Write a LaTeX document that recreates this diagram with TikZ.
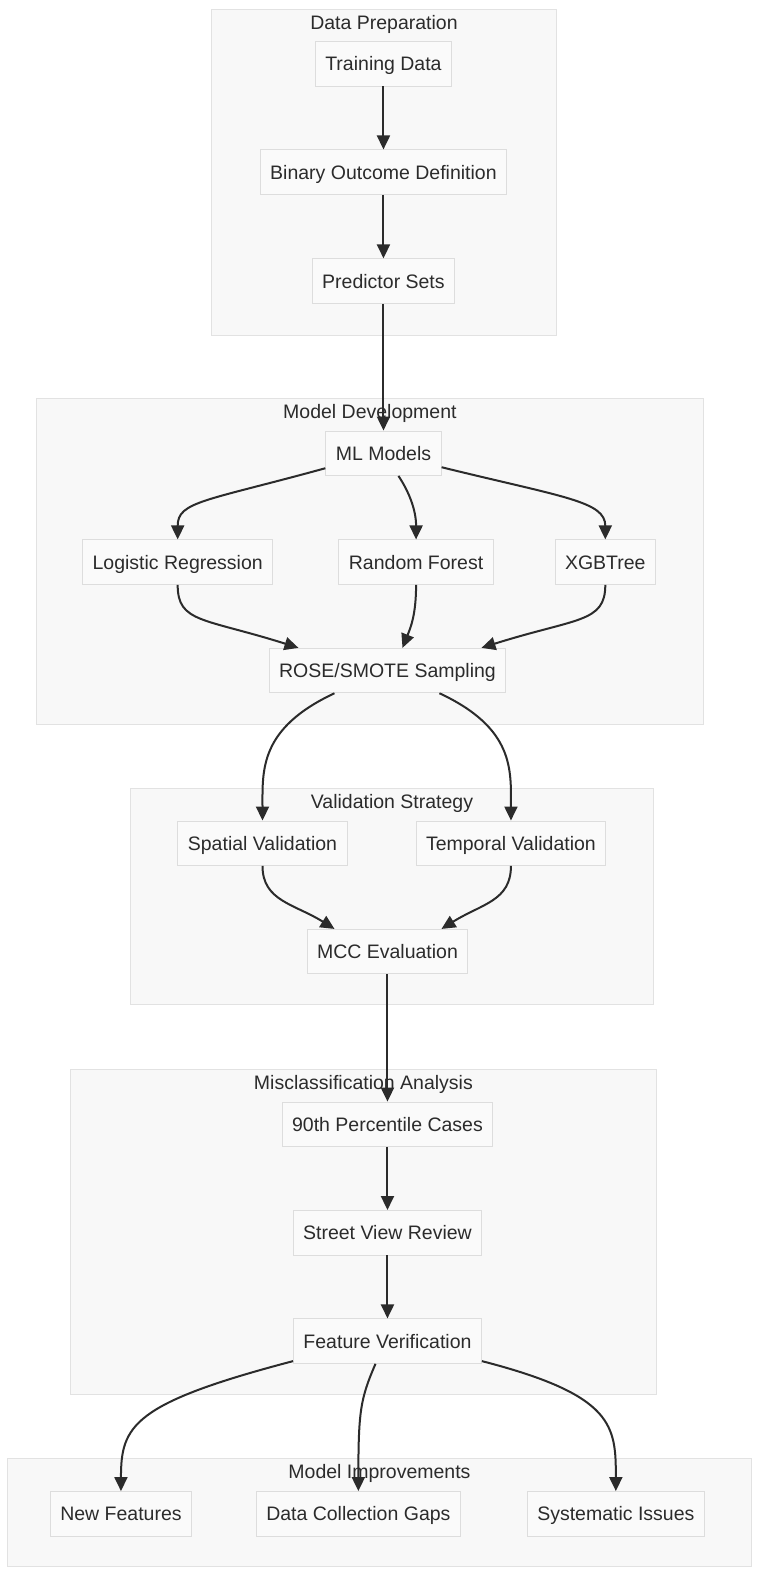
\documentclass[tikz,border=0pt]{standalone}
\usepackage{fontspec}
\setmainfont{Liberation Sans}
\usetikzlibrary{arrows.meta}
\definecolor{ink}{HTML}{2B2B2B}
\definecolor{boxfill}{HTML}{FAFAFA}
\definecolor{boxline}{HTML}{DDDDDD}
\definecolor{clusterfill}{HTML}{F8F8F8}
\definecolor{clusterline}{HTML}{E2E2E2}
\begin{document}
\begin{tikzpicture}[x=1.004pt,y=-1.004pt,
	box/.style={draw=boxline,fill=boxfill,line width=0.9pt,minimum height=44.5pt,inner xsep=10pt,text height=16pt,text depth=2pt,text=ink,font=\fontsize{19.5}{23}\selectfont},
	cluster/.style={draw=clusterline,fill=clusterfill,line width=1pt},
	title/.style={text=ink,inner sep=0pt,text height=16pt,text depth=2pt,font=\fontsize{19.5}{23}\selectfont},
	arr/.style={draw=ink,line width=2pt,-{Triangle[length=14pt,width=13pt]}}]
	\fill[white] (0,0) rectangle (757,1568);
	\useasboundingbox (0,0) rectangle (757,1568);
	
	% subgraphs
	\draw[cluster] (211,9) rectangle (554,334);
	\draw[cluster] (36,397) rectangle (701,722);
	\draw[cluster] (130,785) rectangle (651,1001);
	\draw[cluster] (70,1065) rectangle (654,1389);
	\draw[cluster] (7,1453) rectangle (749,1561);
	\node[title] (tprep) at (382.5,22) {Data Preparation};
	\node[title] (tdev) at (368.5,410) {Model Development};
	\node[title] (tval) at (390.5,798) {Validation Strategy};
	\node[title] (tmis) at (362,1078) {Misclassification Analysis};
	\node[title] (timp) at (378,1466) {Model Improvements};
	
	% nodes
	\node[box] (train) at (382,63.5) {Training Data};
	\node[box] (binary) at (382,171.5) {Binary Outcome Definition};
	\node[box] (pred) at (382,280) {Predictor Sets};
	
	\node[box] (ml) at (382,451.5) {ML Models};
	\node[box] (logreg) at (177,560) {Logistic Regression};
	\node[box] (rf) at (414.5,560) {Random Forest};
	\node[box] (xgb) at (603,560) {XGBTree};
	\node[box] (rose) at (386,668) {ROSE/SMOTE Sampling};
	
	\node[box] (spat) at (261.5,840) {Spatial Validation};
	\node[box] (temp) at (509,840) {Temporal Validation};
	\node[box] (mcc) at (386,948) {MCC Evaluation};
	
	\node[box] (pct) at (386,1120) {90th Percentile Cases};
	\node[box] (street) at (386,1228) {Street View Review};
	\node[box] (feat) at (386,1336) {Feature Verification};
	
	\node[box] (newf) at (120.5,1508) {New Features};
	\node[box] (gaps) at (357,1508) {Data Collection Gaps};
	\node[box] (sys) at (613.5,1508) {Systematic Issues};
	
	% edges
	\draw[arr] (train) -- (binary);
	\draw[arr] (binary) -- (pred);
	\draw[arr] (pred) -- (ml);
	
	\draw[arr] ([yshift=-15pt]ml.west) .. controls +(-120,33) and +(0,-38) .. (logreg.north);
	\draw[arr] ([xshift=15pt]ml.south) .. controls +(10,15) and +(0,-30) .. (rf.north);
	\draw[arr] ([yshift=-14pt]ml.east) .. controls +(122,30) and +(0,-38) .. (xgb.north);
	
	\draw[arr] (logreg.south) .. controls +(0,38) and +(-95,-30) .. ([xshift=-89pt]rose.north);
	\draw[arr] (rf.south) .. controls +(0,30) and +(8,-20) .. ([xshift=15pt]rose.north);
	\draw[arr] (xgb.south) .. controls +(0,38) and +(95,-30) .. ([xshift=94pt]rose.north);
	
	\draw[arr] ([xshift=-53pt]rose.south) .. controls +(-75,35) and +(0,-50) .. (spat.north);
	\draw[arr] ([xshift=52pt]rose.south) .. controls +(75,35) and +(0,-50) .. (temp.north);
	\draw[arr] (spat.south) .. controls +(0,35) and +(-40,-25) .. ([xshift=-53pt]mcc.north);
	\draw[arr] (temp.south) .. controls +(0,35) and +(40,-25) .. ([xshift=54pt]mcc.north);
	
	\draw[arr] (mcc) -- (pct);
	\draw[arr] (pct) -- (street);
	\draw[arr] (street) -- (feat);
	
	\draw[arr] ([yshift=-20pt]feat.west) .. controls +(-160,42) and +(0,-65) .. (newf.north);
	\draw[arr] ([xshift=-12pt]feat.south) .. controls +(-15,35) and +(0,-80) .. (gaps.north);
	\draw[arr] ([yshift=-20pt]feat.east) .. controls +(132,34) and +(0,-65) .. (sys.north);
\end{tikzpicture}
\end{document}
